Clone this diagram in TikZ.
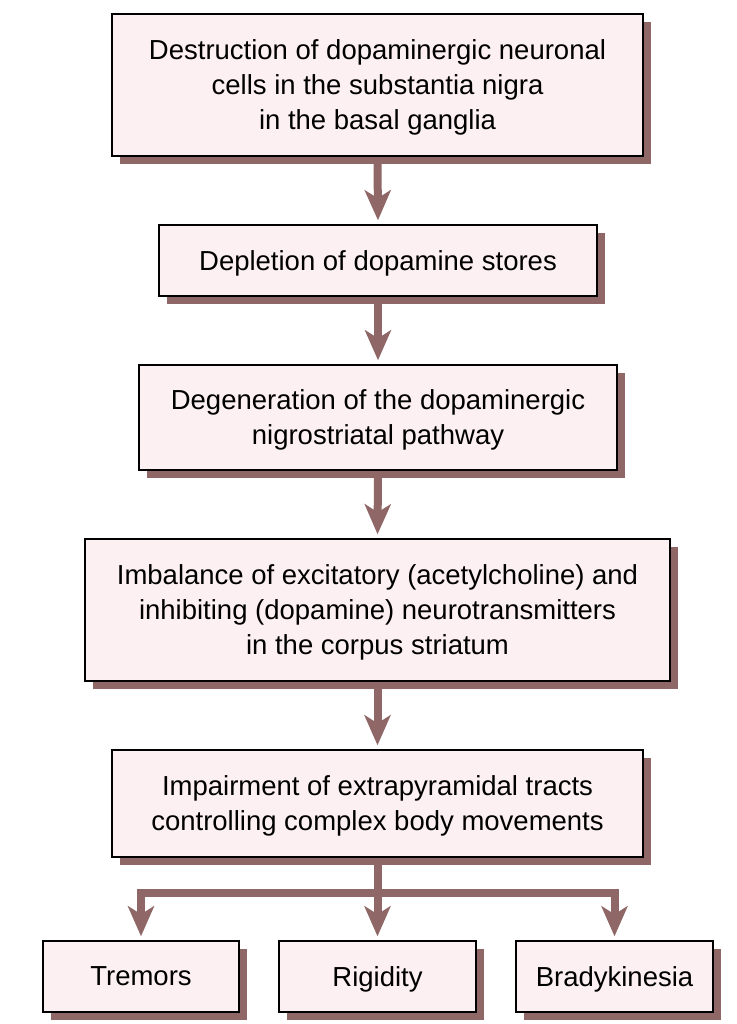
\documentclass[tikz,border=0pt]{standalone}
\usepackage{fontspec}
\setmainfont{Liberation Sans}
\usetikzlibrary{arrows.meta,shadows,backgrounds}
\definecolor{boxfill}{HTML}{FDF0F3}
\definecolor{shade}{HTML}{8F6767}
\tikzset{
  box/.style={draw=black, line width=1.4pt, fill=boxfill, align=center, inner sep=0pt,
    font=\fontsize{27.5}{35}\selectfont, text depth=-1pt,
    drop shadow={shadow xshift=8pt, shadow yshift=-8pt, fill=shade, opacity=1}},
  flow/.style={draw=shade, line width=8pt, -{Stealth[length=30pt,width=26pt,inset=8pt]}, shorten >=4pt},
  plain/.style={draw=shade, line width=8pt}
}
\begin{document}
\begin{tikzpicture}[x=1pt,y=1pt]
\useasboundingbox (0,0) rectangle (736,1024);
\node[box, minimum width=531pt, minimum height=142pt] (b1) at (377.5,939)
  {Destruction of dopaminergic neuronal\\cells in the substantia nigra\\in the basal ganglia};
\node[box, minimum width=438pt, minimum height=71pt] (b2) at (378,763.5)
  {Depletion of dopamine stores};
\node[box, minimum width=478pt, minimum height=105pt] (b3) at (378,606.5)
  {Degeneration of the dopaminergic\\nigrostriatal pathway};
\node[box, minimum width=585pt, minimum height=142pt] (b4) at (377.5,414)
  {Imbalance of excitatory (acetylcholine) and\\inhibiting (dopamine) neurotransmitters\\in the corpus striatum};
\node[box, minimum width=531pt, minimum height=107pt] (b5) at (377.5,220.5)
  {Impairment of extrapyramidal tracts\\controlling complex body movements};
\node[box, minimum width=196pt, minimum height=71pt] (t) at (141,47.5) {Tremors};
\node[box, minimum width=197pt, minimum height=71pt] (r) at (377.5,47.5) {Rigidity};
\node[box, minimum width=197pt, minimum height=71pt] (bk) at (614.5,47.5) {Bradykinesia};
\coordinate (j) at (377.5,131);
\begin{scope}[on background layer]
\draw[flow] (b1.south) -- (b2.north);
\draw[flow] (b2.south) -- (b3.north);
\draw[flow] (b3.south) -- (b4.north);
\draw[flow] (b4.south) -- (b5.north);
\draw[plain] (b5.south) -- (j);
\draw[flow] (j) -- (r.north);
\draw[flow] ([xshift=4pt]j) -| (t.north);
\draw[flow] ([xshift=-4pt]j) -| (bk.north);
\end{scope}
\end{tikzpicture}
\end{document}
